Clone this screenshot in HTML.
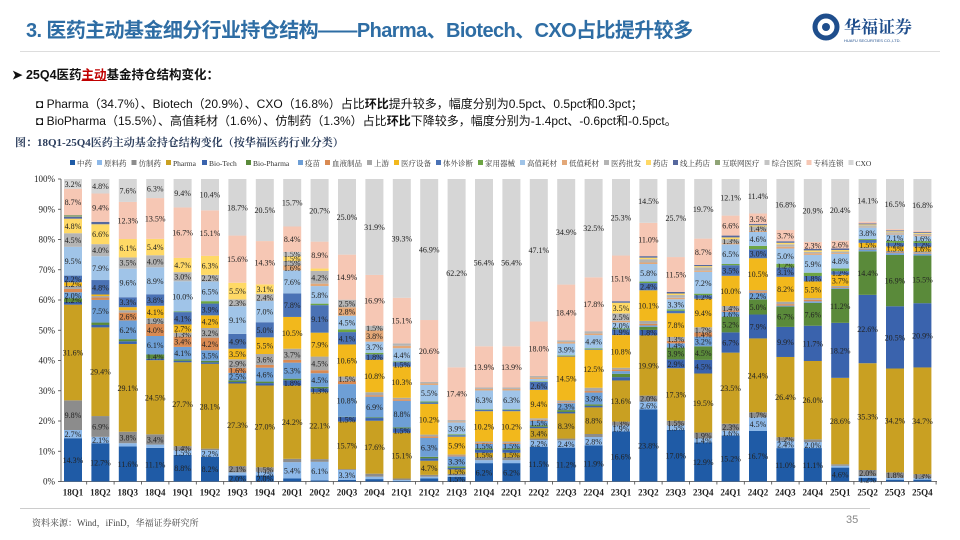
<!DOCTYPE html>
<html><head><meta charset="utf-8">
<style>
body{margin:0;width:960px;height:540px;background:#fff;overflow:hidden;font-family:"Liberation Sans","Noto Sans CJK SC",sans-serif;position:relative}
.abs{position:absolute;white-space:nowrap}
</style></head><body>
<div class="abs" style="left:26px;top:14px;font-size:20px;font-weight:bold;color:#2e6da4;letter-spacing:-0.6px">3. 医药主动基金细分行业持仓结构——Pharma、Biotech、CXO占比提升较多</div>
<div class="abs" style="left:812px;top:12px;width:120px;height:32px">
<svg width="120" height="32"><circle cx="14" cy="15" r="11" fill="none" stroke="#1f4e8c" stroke-width="5"/><circle cx="14" cy="15" r="4" fill="#1f4e8c"/><text x="32" y="21" font-size="17" font-weight="bold" fill="#1f4e8c" font-family="Noto Serif CJK SC,serif">华福证券</text><text x="32" y="30" font-size="4" fill="#1f4e8c">HUAFU SECURITIES CO.,LTD.</text></svg></div>
<div class="abs" style="left:20px;top:51px;width:920px;height:1px;background:#ddd"></div>
<div class="abs" style="left:12px;top:64px;font-size:12.5px;font-weight:bold;color:#111">➤ 25Q4医药<span style="color:#c00000;text-decoration:underline">主动</span>基金持仓结构变化：</div>
<div class="abs" style="left:36px;top:95px;font-size:12px;color:#111">◘ Pharma（34.7%）、Biotech（20.9%）、CXO（16.8%）占比<b>环比</b>提升较多，幅度分别为0.5pct、0.5pct和0.3pct；</div>
<div class="abs" style="left:36px;top:112px;font-size:12px;color:#111">◘ BioPharma（15.5%）、高值耗材（1.6%）、仿制药（1.3%）占比<b>环比</b>下降较多，幅度分别为-1.4pct、-0.6pct和-0.5pct。</div>
<div class="abs" style="left:15px;top:134px;font-size:11px;font-weight:bold;color:#2b3d5c;font-family:'Liberation Serif','Noto Serif CJK SC',serif">图：18Q1-25Q4医药主动基金持仓结构变化（按华福医药行业分类）</div>
<svg id="chart" class="abs" style="left:0;top:150px" width="960" height="355"></svg>
<div class="abs" style="left:20px;top:508px;width:850px;height:1px;background:#ccc"></div>
<div class="abs" style="left:32px;top:516px;font-size:9px;color:#444;font-family:'Liberation Serif','Noto Serif CJK SC',serif">资料来源：Wind，iFinD，华福证券研究所</div>
<div class="abs" style="left:846px;top:514px;font-size:11px;color:#888">35</div>
<script>
const categories=["18Q1","18Q2","18Q3","18Q4","19Q1","19Q2","19Q3","19Q4","20Q1","20Q2","20Q3","20Q4","21Q1","21Q2","21Q3","21Q4","22Q1","22Q2","22Q3","22Q4","23Q1","23Q2","23Q3","23Q4","24Q1","24Q2","24Q3","24Q4","25Q1","25Q2","25Q3","25Q4"];
const seriesNames=["中药","原料药","仿制药","Pharma","Bio-Tech","Bio-Pharma","疫苗","血液制品","上游","医疗设备","体外诊断","家用器械","高值耗材","低值耗材","医药批发","药店","线上药店","互联网医疗","综合医院","专科连锁","CXO"];
const zy=[14.3,12.7,11.6,11.1,8.8,8.2,2.0,2.0,1.0,0.4,0.5,0.8,0.2,1.0,1.5,6.2,6.2,11.5,11.2,11.9,16.6,23.8,17.0,12.9,15.2,16.7,11.0,11.1,4.6,1.2,0.6,0.6];
const yl=[2.7,2.1,1.1,1.1,1.5,2.2,1.0,1.2,5.4,6.1,3.3,0.8,0.3,0.6,0.5,1.0,1.0,2.2,2.4,2.8,1.9,2.6,1.5,1.4,1.6,4.5,2.4,2.0,0.6,0.6,0.6,0.5];
const fz=[9.8,6.9,3.8,3.4,1.4,0.5,2.1,1.5,1.1,0.9,0.3,1.0,0.5,0.6,0.5,1.0,1.0,0.5,0.6,1.0,1.3,2.0,1.5,1.9,2.3,1.7,1.2,0.9,0.5,2.0,1.8,1.3];
const ph=[31.6,29.4,29.1,24.5,27.7,28.1,27.3,27.0,24.2,22.1,15.7,17.6,15.1,4.7,1.5,1.5,1.5,3.4,8.3,8.8,13.6,19.9,17.3,19.5,23.5,24.4,26.4,26.0,28.6,35.3,34.2,34.7];
const bt=[0.9,0.8,0.9,0.5,0.5,0.5,0.5,0.8,1.8,1.3,1.5,0.9,1.5,0.8,0.5,1.0,1.0,0.5,0.5,0.5,1.1,1.8,2.9,4.5,6.7,7.9,9.9,11.7,18.2,22.6,20.5,20.9];
const bp=[1.2,0.8,0.7,1.4,0.5,0.5,0.5,0.5,0.5,0.5,0.1,0.2,0.3,0.5,0.5,0.5,0.5,0.5,0.6,0.5,1.1,1.0,3.9,4.5,5.2,5.0,6.7,7.6,11.2,14.4,16.9,15.5];
const ym=[2.0,7.5,6.2,6.1,4.1,3.5,2.5,4.6,5.3,4.5,10.8,6.9,8.8,6.3,3.3,1.5,1.5,1.5,2.3,3.9,0.9,0.5,1.4,3.2,1.6,2.2,0.3,0.5,0.3,0.6,0.6,0.6];
const xy=[1.1,0.8,2.6,4.0,3.4,4.2,1.6,0.9,0.9,1.0,1.0,0.5,0.5,0.5,0.3,0.3,0.3,0.3,0.3,0.5,0.5,0.5,0.8,1.4,0.5,0.5,0.5,0.5,0.2,0.2,0.2,0.2];
const sy=[1.0,0.5,0.8,1.9,1.3,3.2,2.9,3.6,3.7,4.5,1.5,1.0,0.5,0.6,0.3,0.5,0.5,0.5,0.6,1.1,0.6,1.0,1.3,1.7,1.4,0.4,0.8,0.6,0.5,0.5,0.5,0.5];
const sb=[1.2,0.5,1.0,4.1,2.7,4.2,3.5,5.5,10.5,7.9,10.6,10.8,10.3,10.2,5.9,10.2,10.2,9.4,14.5,12.5,10.8,10.1,7.8,9.4,10.0,10.5,8.2,5.5,3.7,1.5,1.5,1.6];
const ivd=[2.2,4.8,3.3,3.8,4.1,3.9,4.9,5.0,7.8,9.1,4.1,1.8,1.5,0.5,0.5,0.5,0.5,2.6,0.2,0.2,1.9,2.4,0.8,1.2,3.5,3.0,3.1,1.8,1.2,1.0,1.2,1.2];
const jy=[0,0,0,0,0.2,0.8,0,0,0,0.5,0.9,0.5,0.2,0.3,0.3,0.2,0.2,0.2,0.2,0.3,0.3,0.5,0.5,0.5,0.4,1.1,1.2,1.1,0.9,0.3,0.6,0.6];
const gz=[9.5,7.9,9.6,8.9,10.0,6.5,9.1,7.0,7.6,5.8,4.5,3.7,4.4,5.5,3.9,6.3,6.3,0.8,3.9,4.4,2.0,5.8,3.3,7.2,6.5,4.6,5.0,5.9,4.8,3.8,2.1,1.6];
const dz=[0,0,0.1,0,0,0,0,0,1.6,0.8,2.8,3.8,0.8,0.5,0.3,0.5,0.5,0.5,0.5,0.5,0.5,0.5,0.5,0.4,0.4,0.4,0.6,0.5,0.3,0.2,0.3,0.3];
const pf=[4.5,4.0,3.5,4.0,3.0,2.2,2.3,2.4,1.5,4.2,2.5,1.5,0.8,0.5,0.5,0.5,0.5,0.5,0.6,0.8,2.5,1.1,0.9,1.1,1.3,1.4,0.8,0.5,0.5,0.5,0.5,0.5];
const yd=[4.8,6.6,6.1,5.4,4.7,6.3,5.5,3.1,1.5,0.8,0,0,0,0,0,0,0,0,0,0,3.5,0.5,0.5,0.4,0.6,0.4,0.5,0.5,0.5,0.3,0.3,0.3];
const xs=[0.6,0.8,0,0,0,0,0,0,0,0,0,0,0,0,0,0,0,0,0,0,0.5,0.5,0.5,0.4,0.6,0.4,0.5,0.5,0.5,0.3,0.3,0.3];
const hl=[0.6,0,0,0,0,0,0,0,0,0,0,0,0,0,0,0,0,0,0,0,0,0,0,0,0,0,0,0,0,0,0,0];
const zh=[0,0,0,0,0,0,0,0,1.5,0,0,0,0,0,0,0,0,0,0,0,0,0,0,0,0,0,0,0,0,0,0,0];
const zk=[8.7,9.4,12.3,13.5,16.7,15.1,15.6,14.3,8.4,8.9,14.9,16.9,15.1,20.6,17.4,13.9,13.9,18.0,18.4,17.8,15.1,11.0,11.5,8.7,6.6,3.5,3.7,2.3,2.6,0.6,0.4,0.4];
const cxo=[3.2,4.8,7.6,6.3,9.4,10.4,18.7,20.5,15.7,20.7,25.0,31.9,39.3,46.9,62.2,56.4,56.4,47.1,34.9,32.5,25.3,14.5,25.7,19.7,12.1,11.4,16.8,20.9,20.4,14.1,16.5,16.8];
const yTicks=[0,10,20,30,40,50,60,70,80,90,100];
const series=[zy,yl,fz,ph,bt,bp,ym,xy,sy,sb,ivd,jy,gz,dz,pf,yd,xs,hl,zh,zk,cxo];
const colors=["#1f5ba6","#8db8e8","#8c8c8c","#c9a022","#3a63ad","#5a8a3a","#6e9fd6","#d98a52","#a8a8a8","#f2b81c","#4a72b5","#6da544","#a0c4e8","#e3a878","#b4b4b4","#ffd966","#56689e","#8fa476","#c4c4c4","#f6c7b4","#d6d6d6"];
const NS="http://www.w3.org/2000/svg";
const svg=document.getElementById('chart');
const top0=29, bot0=331.5, x0=61, step=27.4, first=73, bw=18;
function yS(p){return bot0-(bot0-top0)*p/100;}
function xS(i){return first+i*step;}
function mk(t,a){const e=document.createElementNS(NS,t);for(const k in a)e.setAttribute(k,a[k]);return e;}
let lx=70;
seriesNames.forEach((n,s)=>{
  const g=mk('g',{});
  
  
  g.appendChild(mk('rect',{x:lx,y:10,width:5,height:5,fill:colors[s]}));
  const t=mk('text',{x:lx+7,y:16,'font-size':'7.5','font-family':'Liberation Serif,Noto Serif CJK SC,serif',fill:'#333'});
  t.textContent=n;g.appendChild(t);svg.appendChild(g);
  const w=n.replace(/[A-Za-z\-]/g,'').length*7.5+(n.match(/[A-Za-z\-]/g)||[]).length*4;
  lx+=w+12;
});
yTicks.forEach(v=>{
  const t=mk('text',{x:55,y:yS(v)+3,'text-anchor':'end','font-size':'9','font-family':'Liberation Serif,serif',fill:'#222'});
  
  
  t.textContent=v+'%';svg.appendChild(t);
  svg.appendChild(mk('line',{x1:x0-3,x2:x0,y1:yS(v),y2:yS(v),stroke:'#444','stroke-width':0.8}));
});
svg.appendChild(mk('line',{x1:x0,x2:x0,y1:top0,y2:bot0,stroke:'#444','stroke-width':0.8}));
const xa=mk('line',{x1:x0,x2:937,y1:bot0,y2:bot0,stroke:'#444','stroke-width':0.8});


svg.appendChild(xa);
categories.forEach((c,i)=>{
  let tot=0;series.forEach(s=>tot+=s[i]);
  let cum=0;
  series.forEach((s,k)=>{
    const v=s[i]/tot*100;if(v<=0)return;
    const y1=yS(cum),y2=yS(cum+v);
    const r=mk('rect',{x:xS(i)-bw/2,y:y2,width:bw,height:y1-y2,fill:colors[k]});
    
    
    svg.appendChild(r);
    if(s[i]>=1.2){
      const t=mk('text',{x:xS(i),y:(y1+y2)/2+3,'text-anchor':'middle','font-size':'8','font-family':'Liberation Serif,serif',fill:'#222'});
      
      
      t.textContent=s[i].toFixed(1)+'%';svg.appendChild(t);
    }
    cum+=v;
  });
  const t=mk('text',{x:xS(i),y:bot0+14,'text-anchor':'middle','font-size':'9','font-weight':'bold','font-family':'Liberation Serif,serif',fill:'#222'});
  
  
  t.textContent=c;svg.appendChild(t);
  svg.appendChild(mk('line',{x1:xS(i)+step/2,x2:xS(i)+step/2,y1:bot0,y2:bot0+3,stroke:'#444','stroke-width':0.8}));
});
</script>
</body></html>
